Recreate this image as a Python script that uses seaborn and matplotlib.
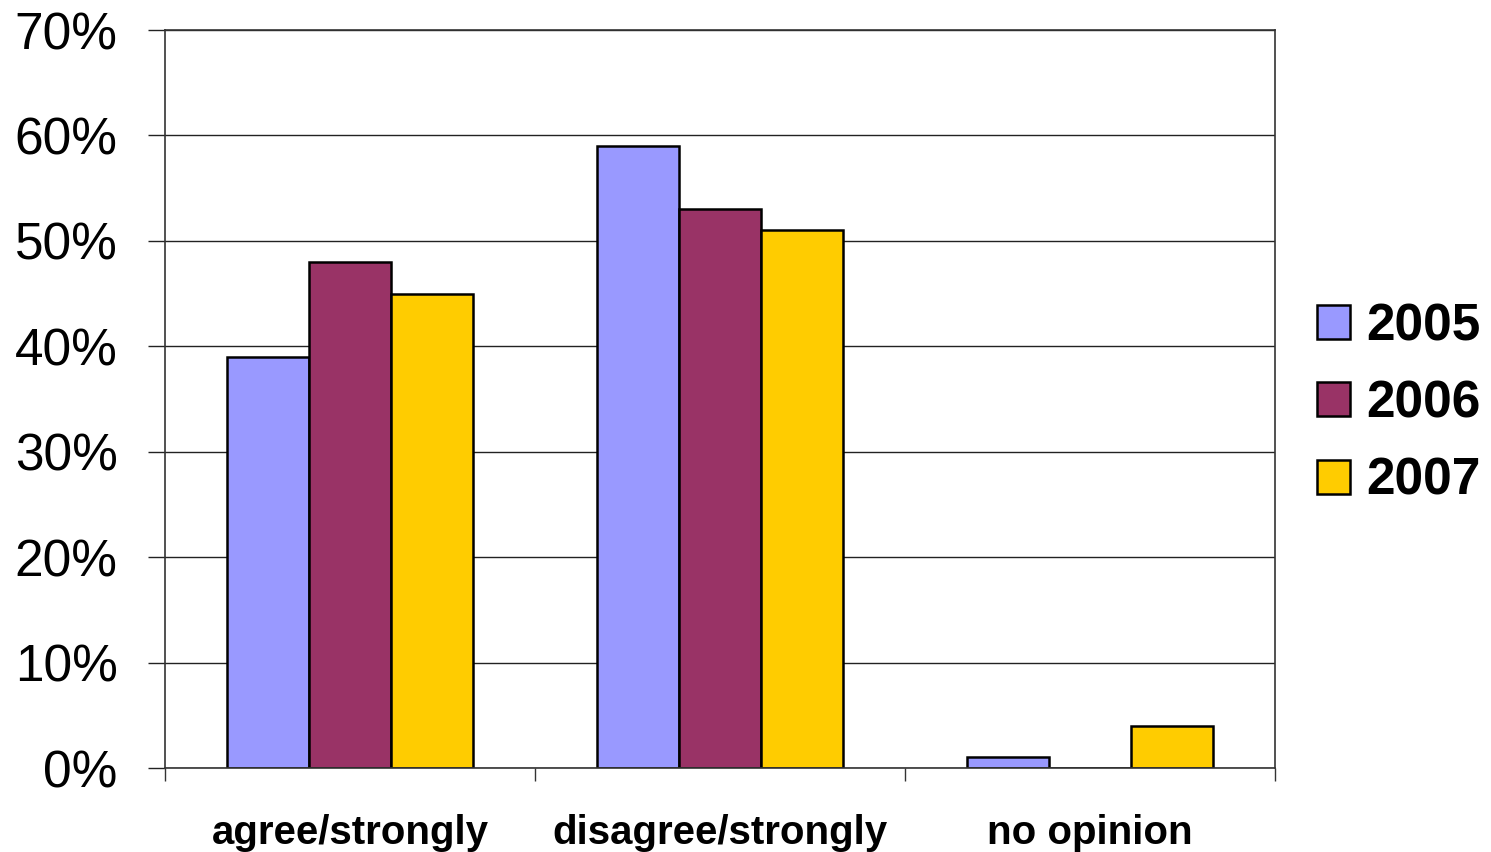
import matplotlib
matplotlib.use("Agg")
import matplotlib.pyplot as plt
import matplotlib.ticker as mticker
import seaborn as sns
import pandas as pd

categories = ["agree/strongly", "disagree/strongly", "no opinion"]
years = ["2005", "2006", "2007"]
values_2005 = [0.39, 0.59, 0.01]
values_2006 = [0.48, 0.53, 0.00]
values_2007 = [0.45, 0.51, 0.04]
colors = ["#9999FF", "#993366", "#FFCC00"]

rows = []
for year, vals in zip(years, [values_2005, values_2006, values_2007]):
    for cat, v in zip(categories, vals):
        rows.append({"category": cat, "year": year, "value": v})
df = pd.DataFrame(rows)

sns.set_style("white")
plt.rcParams["font.family"] = ["Liberation Sans", "DejaVu Sans"]
plt.rcParams["text.color"] = "black"
plt.rcParams["xtick.color"] = "black"
plt.rcParams["ytick.color"] = "black"
plt.rcParams["xtick.labelcolor"] = "black"
plt.rcParams["ytick.labelcolor"] = "black"

fig = plt.figure(figsize=(14.91, 8.52), dpi=100)
ax = fig.add_axes([165 / 1491, 1 - 768 / 852, 1110 / 1491, 738 / 852])

sns.barplot(data=df, x="category", y="value", hue="year", order=categories,
            hue_order=years, palette=colors, width=0.665, edgecolor="black",
            linewidth=1.8, saturation=1, ax=ax, legend=True)

ax.set_xlim(-0.5, 2.5)
ax.set_ylim(0, 0.7)
ax.yaxis.set_major_locator(mticker.MultipleLocator(0.1))
ax.yaxis.set_major_formatter(mticker.PercentFormatter(1.0, decimals=0))
ax.grid(axis="y", color="#222222", linewidth=1.0)
ax.set_axisbelow(True)
ax.set_xlabel("")
ax.set_ylabel("")

ax.set_xticks([0, 1, 2])
ax.set_xticklabels(categories, fontsize=29, fontweight="bold", color="black")
ax.set_xticks([-0.5, 0.5, 1.5, 2.5], minor=True)
ax.tick_params(axis="x", which="major", length=0, pad=33)
ax.tick_params(axis="x", which="minor", length=9, width=1.0, color="#333333",
               direction="out", bottom=True)
ax.tick_params(axis="y", which="major", length=12, width=1.0, color="#222222",
               direction="out", labelsize=37, pad=22, left=True,
               labelcolor="black")

for name, sp in ax.spines.items():
    sp.set_visible(True)
    sp.set_color("#333333")
    sp.set_linewidth(1.2)

handles, labels = ax.get_legend_handles_labels()
ax.get_legend().remove()
for h in handles:
    h.set_edgecolor("black")
    h.set_linewidth(1.8)
fig.legend(handles, labels, loc="center left",
           bbox_to_anchor=(1317 / 1491, 1 - 404 / 852), frameon=False,
           borderpad=0, borderaxespad=0, handlelength=0.64, handleheight=0.64,
           handletextpad=0.31, labelspacing=0.55,
           prop={"size": 37, "weight": "bold"})

fig.savefig("out.png", dpi=100)
